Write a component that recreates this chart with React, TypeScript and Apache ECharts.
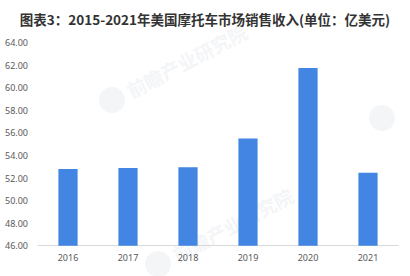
import React, { useEffect, useRef } from "react";
import * as echarts from "echarts";

const titleText = "图表3：2015-2021年美国摩托车市场销售收入(单位：亿美元)";
const categories = ["2016", "2017", "2018", "2019", "2020", "2021"];
const revenue = [52.8, 52.88, 52.96, 55.5, 61.75, 52.46];
const yMin = 46;
const yMax = 64;
const yStep = 2;
const watermarkText = "前瞻产业研究院";

export default function App() {
  const ref = useRef<HTMLDivElement>(null);
  useEffect(() => {
    if (!ref.current) return;
    const chart = echarts.init(ref.current, null, { renderer: "svg" });
    const wmColor = "rgba(225,229,236,0.4)";
    const wm = (x: number, y: number, withText: boolean) => ({
      type: "group",
      x,
      y,
      rotation: (28 * Math.PI) / 180,
      z: 100,
      silent: true,
      children: [
        { type: "circle", shape: { cx: 0, cy: 0, r: 13 }, style: { fill: wmColor } },
        ...(withText
          ? [
              {
                type: "text",
                x: 18,
                y: 0,
                style: {
                  text: watermarkText,
                  fill: wmColor,
                  font: "bold 19px 'Noto Sans CJK SC'",
                  verticalAlign: "middle",
                },
              },
            ]
          : []),
      ],
    });
    chart.setOption({
      animation: false,
      backgroundColor: "#ffffff",
      title: {
        text: titleText,
        left: "center",
        top: 7,
        textStyle: {
          fontFamily: "'Noto Sans CJK SC'",
          fontSize: 13.5,
          fontWeight: "bold",
          color: "#333333",
        },
      },
      grid: { left: 38, right: 12, top: 42.7, bottom: 30.3, containLabel: false },
      xAxis: {
        type: "category",
        data: categories,
        axisLine: { show: true, lineStyle: { color: "#d9d9d9", width: 1 } },
        axisTick: { show: false },
        axisLabel: { color: "#595959", fontSize: 9, margin: 7, fontFamily: "'Noto Sans'" },
      },
      yAxis: {
        type: "value",
        min: yMin,
        max: yMax,
        interval: yStep,
        axisLine: { show: false },
        axisTick: { show: false },
        splitLine: { show: false },
        axisLabel: {
          color: "#595959",
          fontSize: 9,
          margin: 10,
          fontFamily: "'Noto Sans'",
          formatter: (v: number) => v.toFixed(2),
        },
      },
      series: [
        {
          type: "bar",
          data: revenue,
          barWidth: "32%",
          itemStyle: { color: "#4285E2" },
        },
      ],
      graphic: [wm(112, 100, true), wm(382, 118, false), wm(158, 264, true)],
    });
    return () => chart.dispose();
  }, []);
  return (
    <div
      ref={ref}
      style={{ position: "fixed", left: 0, top: 0, width: 410, height: 276 }}
    />
  );
}
